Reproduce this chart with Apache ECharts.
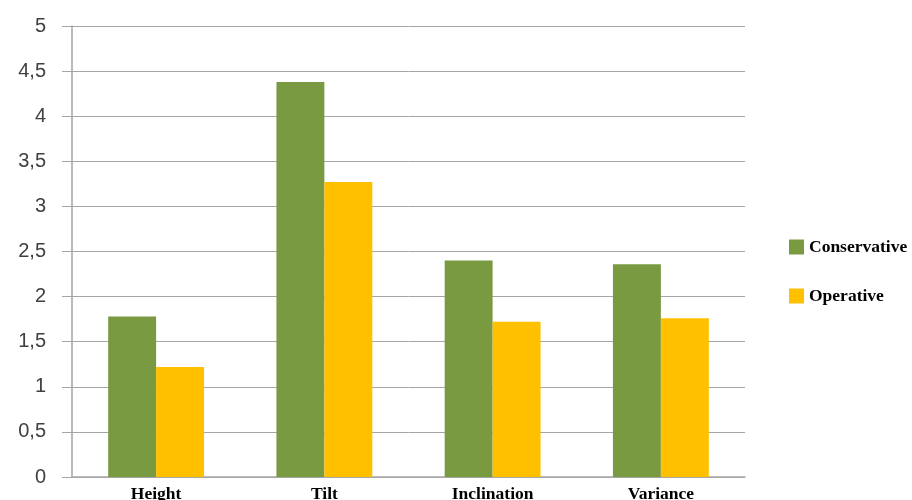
<!DOCTYPE html>
<html>
<head>
<meta charset="utf-8">
<script src="https://cdn.jsdelivr.net/npm/echarts@6/dist/echarts.min.js"></script>
<style>
    html, body { margin: 0; padding: 0; background: #fff; }
    #chart { width: 912px; height: 500px; }
</style>
</head>
<body>
<div id="chart"></div>
<script>
// 数据
const categories = ['Height', 'Tilt', 'Inclination', 'Variance']
const conservative = [1.78, 4.38, 2.4, 2.36]
const operative = [1.22, 3.27, 1.72, 1.76]

const chart = echarts.init(document.getElementById('chart'))

chart.setOption({
    animation: false,
    grid: { left: 72, right: 167, top: 26, bottom: 23, outerBoundsMode: 'none', containLabel: false },
    legend: {
        orient: 'vertical',
        left: 784,
        top: 233,
        itemWidth: 15,
        itemHeight: 15,
        itemGap: 31,
        icon: 'rect',
        textStyle: {
            fontFamily: 'Liberation Serif',
            fontWeight: 'bold',
            fontSize: 17.5,
            color: '#000',
        },
    },
    xAxis: {
        type: 'category',
        data: categories,
        axisLine: { lineStyle: { color: '#a6a6a6', width: 1.5 } },
        axisTick: { length: 10, lineStyle: { color: '#a6a6a6', width: 1.5 } },
        axisLabel: {
            margin: 8,
            fontFamily: 'Liberation Serif',
            fontWeight: 'bold',
            fontSize: 17.5,
            color: '#000',
        },
    },
    yAxis: {
        type: 'value',
        min: 0,
        max: 5,
        interval: 0.5,
        axisLine: { show: true, lineStyle: { color: '#a6a6a6', width: 1.5 } },
        axisTick: { show: true, length: 10, lineStyle: { color: '#a6a6a6' } },
        splitLine: { lineStyle: { color: '#a6a6a6' } },
        axisLabel: {
            margin: 26,
            fontFamily: 'Liberation Sans',
            fontSize: 20,
            color: '#404040',
            formatter: (v) => String(v).replace('.', ','),
        },
    },
    series: [
        {
            name: 'Conservative',
            type: 'bar',
            data: conservative,
            itemStyle: { color: '#7a9a42' },
            barGap: '0%',
            barCategoryGap: '43%',
        },
        {
            name: 'Operative',
            type: 'bar',
            data: operative,
            itemStyle: { color: '#ffc000' },
        },
    ],
})
</script>
</body>
</html>
